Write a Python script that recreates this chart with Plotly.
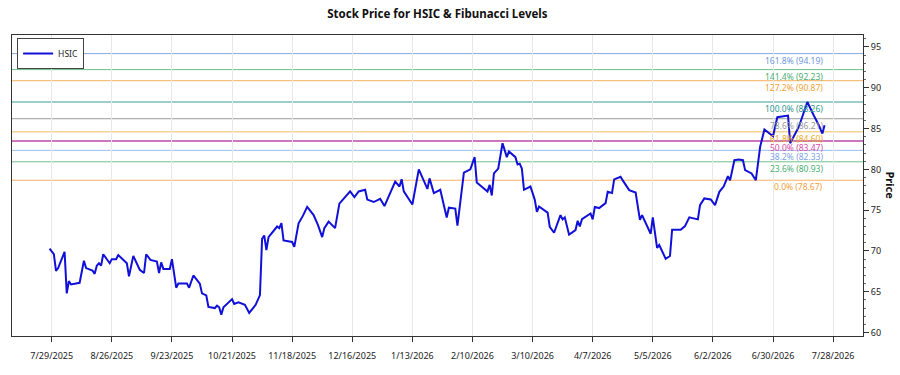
import plotly.graph_objects as go

# ---------------- data ----------------
dates = [
    "2025-07-28", "2025-07-30", "2025-07-31", "2025-08-01", "2025-08-04", "2025-08-05",
    "2025-08-06", "2025-08-07", "2025-08-11", "2025-08-13", "2025-08-14", "2025-08-17",
    "2025-08-18", "2025-08-19", "2025-08-20", "2025-08-21", "2025-08-22", "2025-08-25",
    "2025-08-26", "2025-08-28", "2025-08-29", "2025-09-02", "2025-09-03", "2025-09-05",
    "2025-09-08", "2025-09-10", "2025-09-11", "2025-09-13", "2025-09-16", "2025-09-17",
    "2025-09-18", "2025-09-19", "2025-09-22", "2025-09-23", "2025-09-25", "2025-09-26",
    "2025-09-30", "2025-10-01", "2025-10-03", "2025-10-06", "2025-10-07", "2025-10-09",
    "2025-10-10", "2025-10-13", "2025-10-14", "2025-10-15", "2025-10-16", "2025-10-17",
    "2025-10-21", "2025-10-22", "2025-10-24", "2025-10-27", "2025-10-29", "2025-11-01",
    "2025-11-03", "2025-11-04", "2025-11-05", "2025-11-06", "2025-11-07", "2025-11-11",
    "2025-11-12", "2025-11-13", "2025-11-14", "2025-11-18", "2025-11-19", "2025-11-21",
    "2025-11-23", "2025-11-25", "2025-11-28", "2025-11-30", "2025-12-02", "2025-12-03",
    "2025-12-05", "2025-12-08", "2025-12-10", "2025-12-12", "2025-12-15", "2025-12-17",
    "2025-12-19", "2025-12-22", "2025-12-23", "2025-12-26", "2025-12-29", "2025-12-31",
    "2026-01-05", "2026-01-07", "2026-01-08", "2026-01-09", "2026-01-13", "2026-01-16",
    "2026-01-20", "2026-01-21", "2026-01-23", "2026-01-26", "2026-01-28", "2026-01-29",
    "2026-01-30", "2026-02-02", "2026-02-03", "2026-02-06", "2026-02-09", "2026-02-11",
    "2026-02-12", "2026-02-17", "2026-02-18", "2026-02-19", "2026-02-20", "2026-02-22",
    "2026-02-24", "2026-02-26", "2026-02-27", "2026-03-02", "2026-03-03", "2026-03-04",
    "2026-03-05", "2026-03-06", "2026-03-09", "2026-03-11", "2026-03-12", "2026-03-13",
    "2026-03-17", "2026-03-18", "2026-03-20", "2026-03-23", "2026-03-24", "2026-03-25",
    "2026-03-27", "2026-03-30", "2026-03-31", "2026-04-01", "2026-04-02", "2026-04-06",
    "2026-04-07", "2026-04-08", "2026-04-10", "2026-04-13", "2026-04-14", "2026-04-16",
    "2026-04-17", "2026-04-20", "2026-04-21", "2026-04-23", "2026-04-24", "2026-04-27",
    "2026-04-29", "2026-04-30", "2026-05-04", "2026-05-05", "2026-05-07", "2026-05-08",
    "2026-05-11", "2026-05-13", "2026-05-14", "2026-05-18", "2026-05-20", "2026-05-22",
    "2026-05-26", "2026-05-27", "2026-05-29", "2026-06-01", "2026-06-03", "2026-06-05",
    "2026-06-07", "2026-06-09", "2026-06-10", "2026-06-12", "2026-06-14", "2026-06-16",
    "2026-06-17", "2026-06-20", "2026-06-22", "2026-06-24", "2026-06-25", "2026-06-26",
    "2026-06-30", "2026-07-02", "2026-07-07", "2026-07-08", "2026-07-12", "2026-07-14",
    "2026-07-16", "2026-07-19", "2026-07-21", "2026-07-23", "2026-07-24",
]
prices = [
    70.3, 69.6, 67.55, 67.9, 69.9, 64.8,
    66.3, 65.9, 66.1, 68.8, 67.9, 67.6,
    67.2, 68.2, 68.5, 68.2, 69.6, 68.5,
    69.0, 69.0, 69.5, 68.5, 66.9, 69.4,
    67.7, 67.3, 69.6, 68.9, 68.7, 67.3,
    68.6, 67.8, 67.8, 69.0, 65.5, 66.0,
    66.0, 65.5, 67.0, 66.0, 64.8, 64.55,
    63.15, 63.0, 63.3, 63.1, 62.2, 63.1,
    64.1, 63.5, 63.7, 63.4, 62.4, 63.4,
    64.6, 71.5, 71.9, 70.1, 71.7, 73.0,
    72.8, 73.4, 71.3, 71.1, 70.5, 73.4,
    74.3, 75.4, 74.4, 73.2, 71.7, 72.8,
    73.6, 72.8, 75.8, 76.4, 77.3, 76.6,
    77.3, 77.5, 76.3, 76.0, 76.4, 75.5,
    78.5, 77.9, 78.8, 77.3, 75.7, 80.0,
    77.6, 78.9, 77.1, 77.5, 75.2, 74.1,
    75.3, 75.2, 73.1, 79.6, 80.0, 81.5,
    78.4, 77.3, 78.1, 76.8, 79.5, 80.1,
    83.2, 81.5, 82.2, 81.5, 80.6, 80.7,
    80.1, 77.5, 77.9, 76.3, 74.8, 75.45,
    74.7, 72.97, 72.23, 74.4, 73.87, 74.12,
    72.0, 72.56, 73.7, 73.0, 73.9, 74.6,
    73.87, 75.4, 75.26, 75.87, 77.25, 77.1,
    78.77, 79.09, 78.65, 77.9, 77.46, 77.16,
    73.82, 74.4, 72.11, 74.13, 70.39, 70.73,
    69.04, 69.38, 72.6, 72.6, 73.05, 74.12,
    73.87, 75.62, 76.44, 76.32, 75.62, 77.25,
    77.9, 79.17, 78.65, 81.13, 81.22, 81.13,
    79.91, 79.5, 78.67, 82.76, 84.0, 84.9,
    84.07, 86.4, 86.6, 83.2, 85.2, 86.6,
    88.26, 86.6, 85.6, 84.4, 85.4,
]

fib_labels = ["161.8%", "141.4%", "127.2%", "100.0%", "78.6%", "61.8%", "50.0%", "38.2%", "23.6%", "0.0%"]
fib_values = [94.19, 92.23, 90.87, 88.26, 86.21, 84.60, 83.47, 82.33, 80.93, 78.67]
fib_line_colors = ["#86a9e3", "#6cc08a", "#f4b060", "#3a9f9a", "#9a9a9a",
                   "#f2bc5c", "#cc77bb", "#9fbdf0", "#6cc08a", "#f6b068"]
fib_text_colors = ["#6f98e0", "#48b070", "#f0a030", "#2e9690", "#999999",
                   "#eeaa22", "#d64aa8", "#7ea2e6", "#48b070", "#f4a040"]
fib_line_widths = [1, 1, 1, 1, 1, 1, 2, 1, 1, 1]

tick_dates = ["2025-07-29", "2025-08-26", "2025-09-23", "2025-10-21", "2025-11-18",
              "2025-12-16", "2026-01-13", "2026-02-10", "2026-03-10", "2026-04-07",
              "2026-05-05", "2026-06-02", "2026-06-30", "2026-07-28"]
tick_text = ["7/29/2025", "8/26/2025", "9/23/2025", "10/21/2025", "11/18/2025",
             "12/16/2025", "1/13/2026", "2/10/2026", "3/10/2026", "4/7/2026",
             "5/5/2026", "6/2/2026", "6/30/2026", "7/28/2026"]
y_ticks = [60, 65, 70, 75, 80, 85, 90, 95]

FONT = "Noto Sans, Segoe UI, sans-serif"

fig = go.Figure()

for lab, val, lc, w in zip(fib_labels, fib_values, fib_line_colors, fib_line_widths):
    fig.add_shape(type="line", xref="paper", x0=0, x1=1, yref="y", y0=val, y1=val,
                  line=dict(color=lc, width=w), layer="below")

fig.add_trace(go.Scatter(x=dates, y=prices, mode="lines", name="HSIC",
                         line=dict(color="#1010d8", width=2)))

for lab, val, tc in zip(fib_labels, fib_values, fib_text_colors):
    fig.add_annotation(x=dates[-1], y=val, xref="x", yref="y",
                       text=f"{lab} ({val:.2f})", showarrow=False,
                       xanchor="right", yanchor="top", yshift=1,
                       font=dict(family=FONT, size=8.5, color=tc))

# y-axis title (rotated, right side)
fig.add_annotation(x=1, xref="paper", y=0.5, yref="paper", xshift=27,
                   text="<b>Price</b>", showarrow=False, textangle=90,
                   xanchor="center", yanchor="middle",
                   font=dict(family=FONT, size=11, color="#111"))

fig.update_layout(
    width=900, height=375,
    margin=dict(l=12, r=37, t=35, b=39),
    paper_bgcolor="white", plot_bgcolor="white",
    font=dict(family=FONT, size=9, color="#222"),
    title=dict(text="<b>Stock Price for HSIC & Fibunacci Levels</b>",
               x=0.486, xanchor="center", y=0.963, yanchor="middle",
               font=dict(family=FONT, size=11.5, color="#111")),
    showlegend=True,
    legend=dict(x=0.006, y=0.99, xanchor="left", yanchor="top",
                bgcolor="white", bordercolor="#444", borderwidth=1,
                font=dict(family=FONT, size=8.5, color="#222"),
                itemwidth=30, tracegroupgap=0),
    xaxis=dict(type="date", range=["2025-07-10 12:00", "2026-08-10 22:00"],
               tickvals=tick_dates, ticktext=tick_text, automargin=False,
               showgrid=True, gridcolor="#e8e8e8", gridwidth=1,
               showline=True, linecolor="#333", linewidth=1, mirror=True,
               ticks="outside", ticklen=5, tickcolor="#333", ticklabelstandoff=6,
               tickfont=dict(family=FONT, size=9, color="#222"),
               zeroline=False),
    yaxis=dict(side="right", range=[59.58, 96.47], tickvals=y_ticks, automargin=False,
               showgrid=False, zeroline=False,
               showline=True, linecolor="#333", linewidth=1, mirror=True,
               ticks="outside", ticklen=5, tickcolor="#333",
               minor=dict(dtick=1, ticks="outside", ticklen=2, tickcolor="#666", showgrid=False),
               tickfont=dict(family=FONT, size=9, color="#222")),
)

fig.write_html("out.html")
